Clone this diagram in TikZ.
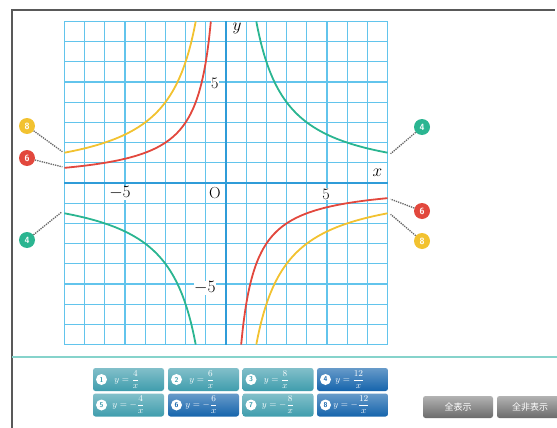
\documentclass[tikz,border=0pt]{standalone}
\usepackage{amsmath}
\usepackage{fontspec}
\newfontfamily\jpfont{Noto Sans CJK JP}
\usetikzlibrary{positioning}
\definecolor{gridblue}{HTML}{62C4EC}
\definecolor{axisblue}{HTML}{2F9CD8}
\definecolor{crvgreen}{HTML}{2BB591}
\definecolor{crvred}{HTML}{E2483D}
\definecolor{crvyellow}{HTML}{F2C230}
\definecolor{btnteal}{HTML}{3F9DAD}
\definecolor{btnblue}{HTML}{1564AC}
\definecolor{sepgreen}{HTML}{86D3CB}
\begin{document}
\begin{tikzpicture}[x=1pt, y=1pt, tag/.style={circle, fill=#1, text=white, font=\sffamily\bfseries\small, inner sep=0pt, minimum size=16pt}, lead/.style={densely dotted, line width=1.3pt, black!60}, curve/.style={line width=1.8pt, #1, smooth, samples=80}, fbtn/.style={rounded corners=2.5pt, top color=#1!65!white, bottom color=#1, minimum width=71pt, minimum height=23pt, inner sep=0pt}, num/.style={circle, fill=white, font=\sffamily\bfseries\scriptsize, inner sep=0pt, minimum size=11pt}, fml/.style={text=white, font=\small, inner sep=0pt}, gbtn/.style={rounded corners=2.5pt, top color=black!30, bottom color=black!58, text=white, font=\jpfont\small, minimum height=22pt, inner sep=0pt}, lbl/.style={fill=white, inner sep=0.5pt, font=\fontsize{16}{18}\selectfont}]

\useasboundingbox (0,0) rectangle (557,-428);
\draw[black!65, line width=1.2pt] (12,-428) -- (12,-10) -- (555,-10);
\draw[sepgreen, line width=1.5pt] (12,-357) -- (557,-357);

% graph of y = a/x
\begin{scope}[shift={(226,-183)}, x=20.2pt, y=20.2pt]
\foreach \i in {-8,...,8}
  \draw[gridblue, line width=1.1pt] (\i,-8) -- (\i,8) (-8,\i) -- (8,\i);
\draw[axisblue, line width=1.4pt] (-8,0) -- (8,0) (0,-8) -- (0,8);
\node[lbl] (xlab) at (7.5,0.5) {$x$};
\node[lbl] (ylab) at (0.55,7.65) {$y$};
\node[lbl] (orig) at (-0.55,-0.5) {O};
\node[lbl] (xp5) at (4.95,-0.55) {5};
\node[lbl] (xm5) at (-5.25,-0.5) {$-5$};
\node[lbl] (yp5) at (-0.55,4.95) {5};
\node[lbl] (ym5) at (-1.05,-5.2) {$-5$};
\draw[curve=crvgreen, domain=1.5:8] plot (\x,{12/\x});
\draw[curve=crvgreen, domain=-8:-1.5] plot (\x,{12/\x});
\draw[curve=crvred, domain=-8:-0.75] plot (\x,{-6/\x});
\draw[curve=crvred, domain=0.75:8] plot (\x,{-6/\x});
\draw[curve=crvyellow, domain=-8:-1.5] plot (\x,{-12/\x});
\draw[curve=crvyellow, domain=1.5:8] plot (\x,{-12/\x});
\coordinate (yelL) at (-8.1,1.55);
\coordinate (redL) at (-8.1,0.8);
\coordinate (grnL) at (-8.15,-1.45);
\coordinate (grnR) at (8.15,1.45);
\coordinate (redR) at (8.15,-0.8);
\coordinate (yelR) at (8.15,-1.55);
\end{scope}

\node[tag=crvyellow] (t8L) at (27,-126) {8};
\node[tag=crvred] (t6L) at (27,-158) {6};
\node[tag=crvgreen] (t4L) at (27,-240) {4};
\node[tag=crvgreen] (t4R) at (422,-127) {4};
\node[tag=crvred] (t6R) at (422,-211) {6};
\node[tag=crvyellow] (t8R) at (422,-241) {8};
\draw[lead] (t8L) -- (yelL);
\draw[lead] (t6L) -- (redL);
\draw[lead] (t4L) -- (grnL);
\draw[lead] (t4R) -- (grnR);
\draw[lead] (t6R) -- (redR);
\draw[lead] (t8R) -- (yelR);

% buttons
\node[fbtn=btnteal] (b1) at (128.5,-379.5) {};
\node[fbtn=btnteal] (b2) at (203.5,-379.5) {};
\node[fbtn=btnteal] (b3) at (278,-379.5) {};
\node[fbtn=btnblue] (b4) at (352.5,-379.5) {};
\node[fbtn=btnteal] (b5) at (128.5,-405) {};
\node[fbtn=btnblue] (b6) at (203.5,-405) {};
\node[fbtn=btnteal] (b7) at (278,-405) {};
\node[fbtn=btnblue] (b8) at (352.5,-405) {};
\node[num, text=btnteal, right=3pt of b1.west] (n1) {1};
\node[num, text=btnteal, right=3pt of b2.west] (n2) {2};
\node[num, text=btnteal, right=3pt of b3.west] (n3) {3};
\node[num, text=btnblue, right=3pt of b4.west] (n4) {4};
\node[num, text=btnteal, right=3pt of b5.west] (n5) {5};
\node[num, text=btnblue, right=3pt of b6.west] (n6) {6};
\node[num, text=btnteal, right=3pt of b7.west] (n7) {7};
\node[num, text=btnblue, right=3pt of b8.west] (n8) {8};
\node[fml, right=7pt of n1] (f1) {$y=\dfrac{4}{x}$};
\node[fml, right=7pt of n2] (f2) {$y=\dfrac{6}{x}$};
\node[fml, right=7pt of n3] (f3) {$y=\dfrac{8}{x}$};
\node[fml, right=4pt of n4] (f4) {$y=\dfrac{12}{x}$};
\node[fml, right=5pt of n5] (f5) {$y=-\dfrac{4}{x}$};
\node[fml, right=3pt of n6] (f6) {$y=-\dfrac{6}{x}$};
\node[fml, right=5pt of n7] (f7) {$y=-\dfrac{8}{x}$};
\node[fml, right=2pt of n8] (f8) {$y=-\dfrac{12}{x}$};
\node[gbtn, minimum width=70pt] (showall) at (458,-407) {全表示};
\node[gbtn, minimum width=66pt] (hideall) at (530,-407) {全非表示};

\end{tikzpicture}
\end{document}
